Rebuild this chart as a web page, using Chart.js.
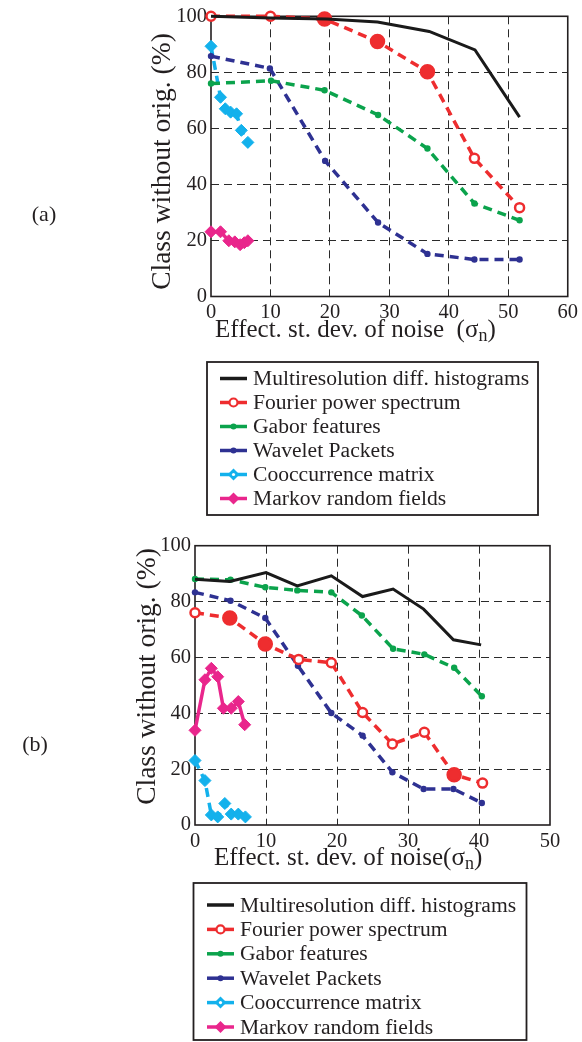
<!DOCTYPE html>
<html><head><meta charset="utf-8">
<script src="https://cdn.jsdelivr.net/npm/chart.js@4.4.1/dist/chart.umd.min.js"></script>
<style>
html,body{margin:0;padding:0;background:#fff;}
#wrap{position:relative;width:582px;height:1042px;overflow:hidden;}
canvas{position:absolute;left:0;}
</style></head><body>
<div id="wrap">
<canvas id="ca" width="582" height="521" style="top:0"></canvas>
<canvas id="cb" width="582" height="521" style="top:521px"></canvas>
</div>
<script>
// ---------- labels ----------
const seriesNames = ["Multiresolution diff. histograms","Fourier power spectrum","Gabor features","Wavelet Packets","Cooccurrence matrix","Markov random fields"];
const yTitle = "Class without orig. (%)";
const xTitleA = "Effect. st. dev. of noise  (σ";
const xTitleB = "Effect. st. dev. of noise(σ";
const xTitleSub = "n";
const aXTicks = [0,10,20,30,40,50,60];
const bXTicks = [0,10,20,30,40,50];
const yTicks = [0,20,40,60,80,100];

// ---------- panel (a) data ----------
const aMultiX = [0, 10, 19.5, 28, 36.7, 44.4, 51.9];
const aMultiY = [100, 99.4, 99, 98, 94.6, 88, 64];
const aFourX = [0, 10, 19.1, 28, 36.4, 44.3, 51.9];
const aFourY = [100, 100, 99, 91, 80.2, 49.3, 31.7];
const aGaborX = [0, 10.1, 19.1, 28.1, 36.4, 44.3, 51.9];
const aGaborY = [76, 77, 73.6, 64.8, 52.8, 33.2, 27.2];
const aWaveX = [0, 9.9, 19.2, 28.1, 36.4, 44.3, 51.9];
const aWaveY = [85.8, 81.4, 48.4, 26.4, 15.2, 13.2, 13.2];
const aCoocX = [0, 1.6, 2.4, 3.3, 4.3, 5.1, 6.2];
const aCoocY = [89.3, 71.1, 67, 65.8, 65.2, 59.3, 55];
const aMarkX = [0, 1.6, 3.0, 4.0, 4.9, 5.6, 6.2];
const aMarkY = [23.1, 23.1, 19.9, 19.5, 18.5, 19.2, 19.9];

// ---------- panel (b) data ----------
const bMultiX = [0, 4.9, 10, 14.4, 19.2, 23.6, 27.9, 32.2, 36.4, 40.3];
const bMultiY = [88, 87.2, 90.4, 85.6, 89.2, 81.8, 84.5, 77.3, 66.3, 64.5];
const bFourX = [0, 4.9, 9.9, 14.6, 19.2, 23.6, 27.8, 32.3, 36.5, 40.5];
const bFourY = [76, 74.1, 64.8, 59.3, 58.1, 40.3, 29, 33.2, 18, 15];
const bGaborX = [0, 5, 9.9, 14.4, 19.2, 23.5, 27.9, 32.3, 36.5, 40.4];
const bGaborY = [88.1, 87.8, 85.1, 84, 83.3, 75, 63.1, 61.1, 56.3, 46.1];
const bWaveX = [0, 5, 9.9, 14.5, 19.2, 23.6, 27.8, 32.2, 36.4, 40.4];
const bWaveY = [83.3, 80.3, 74.1, 57, 40.1, 32, 18.9, 12.9, 12.9, 7.9];
const bCoocX = [0, 1.4, 2.3, 3.2, 4.2, 5.1, 6.1, 7.1];
const bCoocY = [23.1, 15.9, 3.6, 2.9, 7.7, 3.9, 3.9, 2.9];
const bMarkX = [0, 1.4, 2.3, 3.2, 4.0, 5.1, 6.1, 7.0];
const bMarkY = [33.9, 52, 56.1, 53.1, 41.8, 41.8, 44.2, 35.9];

// which Fourier markers are drawn filled (style, not data)
const aFourFilled = [false, false, true, true, true, false, false];
const bFourFilled = [false, true, true, false, false, false, false, false, true, false];

// ---------- styling ----------
const INK = '#231f20';
const SERIF = "'Liberation Serif','Times New Roman',serif";
const COL = {black:'#1a1a1a', red:'#ee2d2f', green:'#0ba34c', navy:'#2e3192', cyan:'#13b1ec', magenta:'#e9268c'};
const DASH = [9, 6];

function pts(xs, ys){ return xs.map((x,i)=>({x:x, y:ys[i]})); }

function makeDatasets(d, filled, markDash){
  return [
    {label:seriesNames[0], data:pts(d[0][0],d[0][1]), borderColor:COL.black, borderWidth:3, pointRadius:0, legendMarker:'none'},
    {label:seriesNames[1], data:pts(d[1][0],d[1][1]), borderColor:COL.red, borderWidth:3.5, borderDash:DASH,
      pointStyle:'circle', pointRadius:filled.map(f=>f?6.5:4.5), pointBorderWidth:2.5,
      pointBackgroundColor:filled.map(f=>f?COL.red:'#fff'), pointBorderColor:COL.red, legendMarker:'open'},
    {label:seriesNames[2], data:pts(d[2][0],d[2][1]), borderColor:COL.green, borderWidth:3.5, borderDash:DASH,
      pointStyle:'circle', pointRadius:3.2, pointBorderWidth:0, pointBackgroundColor:COL.green, legendMarker:'dot'},
    {label:seriesNames[3], data:pts(d[3][0],d[3][1]), borderColor:COL.navy, borderWidth:3.5, borderDash:DASH,
      pointStyle:'circle', pointRadius:3.2, pointBorderWidth:0, pointBackgroundColor:COL.navy, legendMarker:'dot'},
    {label:seriesNames[4], data:pts(d[4][0],d[4][1]), borderColor:COL.cyan, borderWidth:3.5, borderDash:DASH,
      pointStyle:'rectRot', pointRadius:6, pointBorderWidth:1, pointBackgroundColor:COL.cyan, pointBorderColor:COL.cyan, legendMarker:'diamondOpen'},
    {label:seriesNames[5], data:pts(d[5][0],d[5][1]), borderColor:COL.magenta, borderWidth:3.5, borderDash:markDash,
      pointStyle:'rectRot', pointRadius:6, pointBorderWidth:1, pointBackgroundColor:COL.magenta, pointBorderColor:COL.magenta, legendMarker:'diamond'}
  ].map(ds=>Object.assign(ds,{fill:false, tension:0, clip:false, showLine:true}));
}

// frame, titles, legend, panel letter
const decorPlugin = {
  id:'decor',
  beforeDatasetsDraw(chart){
    const {ctx, chartArea:a} = chart;
    ctx.save();
    ctx.strokeStyle = INK; ctx.lineWidth = 1.6; ctx.setLineDash([]);
    ctx.strokeRect(a.left, a.top, a.right-a.left, a.bottom-a.top);
    ctx.restore();
  },
  afterDraw(chart, args, o){
    const ctx = chart.ctx;
    ctx.save();
    ctx.fillStyle = INK;
    // y title
    ctx.save();
    ctx.translate(o.yTitleX, o.yTitleY);
    ctx.rotate(-Math.PI/2);
    ctx.font = o.yTitleSize + 'px ' + SERIF;
    ctx.textAlign = 'center'; ctx.textBaseline = 'middle';
    ctx.fillText(yTitle, 0, 0);
    ctx.restore();
    // x title with subscript
    ctx.font = o.xTitleSize + 'px ' + SERIF;
    ctx.textAlign = 'left'; ctx.textBaseline = 'alphabetic';
    let x = o.xTitleX;
    ctx.fillText(o.xTitle, x, o.xTitleY);
    x += ctx.measureText(o.xTitle).width;
    ctx.font = Math.round(o.xTitleSize*0.7) + 'px ' + SERIF;
    ctx.fillText(xTitleSub, x, o.xTitleY + 4);
    x += ctx.measureText(xTitleSub).width;
    ctx.font = o.xTitleSize + 'px ' + SERIF;
    ctx.fillText(')', x, o.xTitleY);
    // panel letter
    ctx.font = '22px ' + SERIF;
    ctx.textAlign = 'center'; ctx.textBaseline = 'middle';
    ctx.fillText(o.panel, o.panelX, o.panelY);
    // legend
    const L = o.legend;
    ctx.strokeStyle = INK; ctx.lineWidth = 1.8; ctx.setLineDash([]);
    ctx.strokeRect(L.x, L.y, L.w, L.h);
    chart.data.datasets.forEach((ds, i) => {
      const cy = L.row0 + i*L.rowH;
      ctx.strokeStyle = ds.borderColor; ctx.lineWidth = 3.5; ctx.setLineDash([]);
      ctx.beginPath(); ctx.moveTo(L.sx, cy); ctx.lineTo(L.sx + L.sw, cy); ctx.stroke();
      const mx = L.sx + L.sw/2;
      ctx.fillStyle = ds.borderColor;
      if (ds.legendMarker === 'open') {
        ctx.beginPath(); ctx.arc(mx, cy, 4, 0, Math.PI*2); ctx.fillStyle='#fff'; ctx.fill();
        ctx.lineWidth = 2.2; ctx.stroke();
      } else if (ds.legendMarker === 'dot') {
        ctx.beginPath(); ctx.arc(mx, cy, 3, 0, Math.PI*2); ctx.fill();
      } else if (ds.legendMarker === 'diamond' || ds.legendMarker === 'diamondOpen') {
        const r = 6;
        ctx.beginPath(); ctx.moveTo(mx, cy-r); ctx.lineTo(mx+r, cy); ctx.lineTo(mx, cy+r); ctx.lineTo(mx-r, cy); ctx.closePath(); ctx.fill();
        if (ds.legendMarker === 'diamondOpen') { ctx.fillStyle='#fff'; ctx.beginPath(); ctx.arc(mx, cy, 1.6, 0, Math.PI*2); ctx.fill(); }
      }
      ctx.fillStyle = INK;
      ctx.font = L.size + 'px ' + SERIF;
      ctx.textAlign = 'left'; ctx.textBaseline = 'middle';
      ctx.fillText(ds.label, L.tx, cy + 1);
    });
    ctx.restore();
  }
};

function gridColor(c){
  const s = c.scale;
  return (c.tick && (c.tick.value === s.min || c.tick.value === s.max)) ? 'rgba(0,0,0,0)' : '#2a2a2a';
}

function makeChart(id, datasets, xMax, xTickVals, pad, decor){
  return new Chart(document.getElementById(id), {
    type:'line',
    data:{datasets:datasets},
    plugins:[decorPlugin],
    options:{
      responsive:false, animation:false, devicePixelRatio:1,
      layout:{padding:pad},
      plugins:{legend:{display:false}, tooltip:{enabled:false}, decor:decor},
      elements:{line:{borderCapStyle:'butt'}},
      scales:{
        x:{type:'linear', min:0, max:xMax,
          afterBuildTicks:(s)=>{ s.ticks = xTickVals.map(v=>({value:v})); },
          afterFit:(s)=>{ s.height = 40; },
          grid:{color:gridColor, lineWidth:1, drawTicks:false},
          border:{display:false, dash:[8,5]},
          ticks:{padding:4, color:INK, font:{family:SERIF, size:20.5}, maxRotation:0, callback:(v)=>String(v)}
        },
        y:{type:'linear', min:0, max:100,
          afterBuildTicks:(s)=>{ s.ticks = yTicks.map(v=>({value:v})); },
          afterFit:(s)=>{ s.width = 40; },
          grid:{color:gridColor, lineWidth:1, drawTicks:false},
          border:{display:false, dash:[8,5]},
          ticks:{padding:4, color:INK, font:{family:SERIF, size:20.5}, callback:(v)=>String(v)}
        }
      }
    }
  });
}

makeChart('ca',
  makeDatasets([[aMultiX,aMultiY],[aFourX,aFourY],[aGaborX,aGaborY],[aWaveX,aWaveY],[aCoocX,aCoocY],[aMarkX,aMarkY]], aFourFilled, []),
  60, aXTicks,
  {left:171, right:10, top:13, bottom:184.5},
  {yTitleX:163, yTitleY:161.5, yTitleSize:27.5, xTitle:xTitleA, xTitleX:215, xTitleY:337, xTitleSize:25,
   panel:'(a)', panelX:44, panelY:215,
   legend:{x:207, y:362, w:331, h:153, row0:378.5, rowH:24, sx:220, sw:27, tx:253, size:21.6}});

makeChart('cb',
  makeDatasets([[bMultiX,bMultiY],[bFourX,bFourY],[bGaborX,bGaborY],[bWaveX,bWaveY],[bCoocX,bCoocY],[bMarkX,bMarkY]], bFourFilled, []),
  50, bXTicks,
  {left:155, right:32, top:24.7, bottom:177},
  {yTitleX:148, yTitleY:155.5, yTitleSize:27.5, xTitle:xTitleB, xTitleX:214, xTitleY:344, xTitleSize:25,
   panel:'(b)', panelX:35, panelY:224,
   legend:{x:193.5, y:362, w:333, h:157, row0:384, rowH:24.4, sx:207, sw:27, tx:240, size:21.6}});
</script>
</body></html>
